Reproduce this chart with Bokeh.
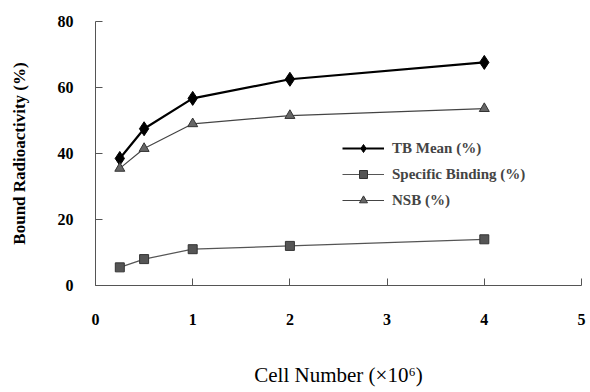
from bokeh.plotting import figure
from bokeh.models import Range1d, FixedTicker, Legend, LegendItem
from bokeh.embed import file_html
from bokeh.resources import INLINE

cell_number = [0.25, 0.5, 1, 2, 4]
tb_mean = [38.5, 47.5, 56.7, 62.5, 67.6]
specific_binding = [5.5, 8.0, 11.0, 12.0, 14.0]
nsb = [35.5, 41.5, 49.0, 51.5, 53.6]
x_ticks = [0, 1, 2, 3, 4, 5]
y_ticks = [0, 20, 40, 60, 80]

SERIF = "Liberation Serif"

p = figure(width=590, height=392, output_backend="svg", toolbar_location=None,
           x_range=Range1d(0, 5), y_range=Range1d(0, 80),
           min_border_left=95, min_border_right=9, min_border_top=21, min_border_bottom=107)
p.outline_line_color = None
p.xgrid.grid_line_color = None
p.ygrid.grid_line_color = None

r_tb_l = p.line(cell_number, tb_mean, line_color="black", line_width=2.2)
r_tb_m = p.scatter(cell_number, tb_mean, marker="diamond", size=14, fill_color="black", line_color="black")
r_sb_l = p.line(cell_number, specific_binding, line_color="#555555", line_width=1.2)
r_sb_m = p.scatter(cell_number, specific_binding, marker="square", size=9, fill_color="#555555", line_color="#333333")
r_nsb_l = p.line(cell_number, nsb, line_color="#444444", line_width=1.2)
r_nsb_m = p.scatter(cell_number, nsb, marker="triangle", size=10, fill_color="#666666", line_color="#333333")

for ax in (p.xaxis[0], p.yaxis[0]):
    ax.axis_line_color = "#555555"
    ax.axis_line_width = 1
    ax.major_tick_in = 7
    ax.major_tick_out = 0
    ax.minor_tick_in = 0
    ax.minor_tick_out = 0
    ax.major_tick_line_color = "#555555"
    ax.major_label_text_font = SERIF
    ax.major_label_text_font_style = "bold"
    ax.major_label_text_font_size = "16px"
    ax.major_label_text_color = "black"
    ax.axis_label_text_color = "black"

p.xaxis.ticker = FixedTicker(ticks=x_ticks)
p.yaxis.ticker = FixedTicker(ticks=y_ticks)
p.xaxis.major_label_standoff = 28
p.yaxis.major_label_standoff = 22

p.xaxis.axis_label = "Cell Number (\u00d710\u2076)"
p.xaxis.axis_label_text_font = SERIF
p.xaxis.axis_label_text_font_style = "normal"
p.xaxis.axis_label_text_font_size = "21px"
p.xaxis.axis_label_standoff = 35

p.yaxis.axis_label = "Bound Radioactivity (%)"
p.yaxis.axis_label_text_font = SERIF
p.yaxis.axis_label_text_font_style = "bold"
p.yaxis.axis_label_text_font_size = "17px"
p.yaxis.axis_label_standoff = 26

legend = Legend(items=[
    LegendItem(label="TB Mean (%)", renderers=[r_tb_l, r_tb_m]),
    LegendItem(label="Specific Binding (%)", renderers=[r_sb_l, r_sb_m]),
    LegendItem(label="NSB (%)", renderers=[r_nsb_l, r_nsb_m]),
], location=(247, 75))
legend.background_fill_alpha = 0
legend.border_line_color = None
legend.label_text_font = SERIF
legend.label_text_font_style = "bold"
legend.label_text_font_size = "15px"
legend.glyph_width = 42
legend.glyph_height = 20
legend.spacing = 6
legend.label_standoff = 8
p.add_layout(legend)

open("out.html", "w").write(file_html(p, INLINE))
